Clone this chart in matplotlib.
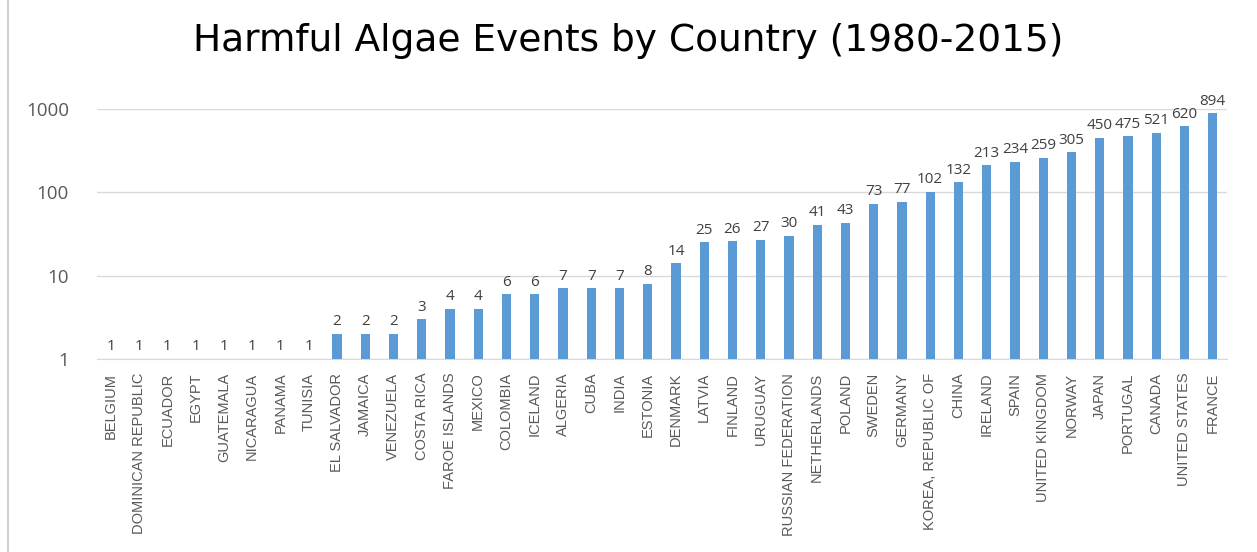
import matplotlib.pyplot as plt
from matplotlib.lines import Line2D

countries = ['BELGIUM', 'DOMINICAN REPUBLIC', 'ECUADOR', 'EGYPT', 'GUATEMALA',
             'NICARAGUA', 'PANAMA', 'TUNISIA', 'EL SALVADOR', 'JAMAICA',
             'VENEZUELA', 'COSTA RICA', 'FAROE ISLANDS', 'MEXICO', 'COLOMBIA',
             'ICELAND', 'ALGERIA', 'CUBA', 'INDIA', 'ESTONIA', 'DENMARK',
             'LATVIA', 'FINLAND', 'URUGUAY', 'RUSSIAN FEDERATION', 'NETHERLANDS',
             'POLAND', 'SWEDEN', 'GERMANY', 'KOREA, REPUBLIC OF', 'CHINA',
             'IRELAND', 'SPAIN', 'UNITED KINGDOM', 'NORWAY', 'JAPAN',
             'PORTUGAL', 'CANADA', 'UNITED STATES', 'FRANCE']
events = [1, 1, 1, 1, 1, 1, 1, 1, 2, 2, 2, 3, 4, 4, 6, 6, 7, 7, 7, 8, 14,
          25, 26, 27, 30, 41, 43, 73, 77, 102, 132, 213, 234, 259, 305, 450,
          475, 521, 620, 894]

plt.rcParams['font.family'] = ['Open Sans', 'DejaVu Sans']

fig = plt.figure(figsize=(12.57, 5.52), dpi=100)
ax = fig.add_axes([0.077, 0.350, 0.899, 0.4525])

x = range(len(countries))
bars = ax.bar(x, events, width=0.33, color='#5B9BD5', zorder=3)
ax.set_yscale('log')
ax.set_ylim(1, 1000)
ax.set_xlim(-0.5, len(countries) - 0.5)

for xi, v in zip(x, events):
    ax.text(xi, v * 1.13, str(v), ha='center', va='bottom', fontsize=11,
            color='#404040', clip_on=False)

ax.set_yticks([1, 10, 100, 1000])
ax.set_yticklabels(['1', '10', '100', '1000'])
ax.minorticks_off()
ax.tick_params(axis='y', length=0, labelsize=13.5, labelcolor='#595959', pad=20)
ax.set_xticks(list(x))
ax.set_xticklabels(countries, rotation=90, fontsize=10.5, color='#595959',
                   family='Liberation Sans')
ax.tick_params(axis='x', length=0, pad=10)

ax.grid(axis='y', color='#d9d9d9', linewidth=1, zorder=0)
for s in ['top', 'right', 'left']:
    ax.spines[s].set_visible(False)
ax.spines['bottom'].set_color('#d9d9d9')

fig.text(0.5, 0.925, 'Harmful Algae Events by Country (1980-2015)',
         ha='center', va='center', fontsize=27, color='#000000',
         family='DejaVu Sans')

fig.add_artist(Line2D([0.0065, 0.0065], [0, 1], color='#d0d0d0', linewidth=1.5,
                      transform=fig.transFigure))

plt.savefig('out.png', dpi=100)
